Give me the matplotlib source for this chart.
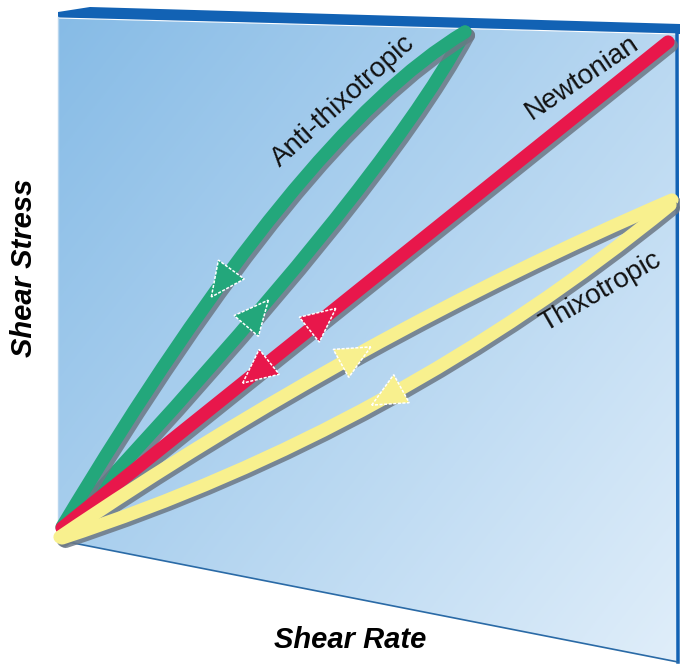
import numpy as np
import matplotlib.pyplot as plt
from matplotlib.path import Path
from matplotlib.patches import PathPatch, Polygon
import matplotlib.patheffects as pe

# diagram coordinates (1 unit = 1 px, y downwards)
panel_x = [58, 677, 678, 58]
panel_y = [17, 33, 662, 540]
band_x = [58, 90, 680, 680, 677, 58]
band_y = [12, 7, 24, 34, 34, 18]

# loops: start, control, end of each branch (quadratic curves)
green_up = [(65, 527), (380, 190), (465, 32)]
green_down = [(465, 32), (299, 131), (62, 527)]
red_line = [(62, 528), (668, 42)]
yellow_up = [(60, 537), (358, 335), (672, 200)]
yellow_down = [(670, 205), (395, 429), (62, 538)]

# arrow positions along each branch (fraction of the branch)
green_up_arrow = 0.35
green_down_arrow = 0.645
red_arrows = [0.43, 0.32]
yellow_up_arrow = 0.49
yellow_down_arrow = 0.49

labels = ["Anti-thixotropic", "Newtonian", "Thixotropic"]
label_x = [343, 582, 601]
label_y = [101, 78, 292]
label_rot = [42, 34, 30]

green = "#23a77b"
red = "#e8174b"
yellow = "#f8f08e"
dark_blue = "#1262b4"

plt.rcParams["font.family"] = ["Liberation Sans", "DejaVu Sans"]

fig = plt.figure(figsize=(6.8, 6.66), dpi=100)
ax = fig.add_axes([0, 0, 1, 1])
ax.set_xlim(0, 680)
ax.set_ylim(666, 0)
ax.axis("off")

# panel with gradient
panel = Polygon(list(zip(panel_x, panel_y)), closed=True, facecolor="none",
                edgecolor="none")
ax.add_patch(panel)
xx, yy = np.meshgrid(np.linspace(0, 1, 300), np.linspace(0, 1, 300))
s = np.clip(0.55 * xx + 0.45 * yy, 0, 1)[..., None]
c0 = np.array([134, 187, 230]) / 255
c1 = np.array([224, 238, 250]) / 255
img = c0 * (1 - s) + c1 * s
im = ax.imshow(img, extent=(58, 678, 662, 8), origin="upper", aspect="auto",
               zorder=1)
im.set_clip_path(panel)
ax.set_xlim(0, 680)
ax.set_ylim(666, 0)

ax.add_patch(Polygon(list(zip(band_x, band_y)), closed=True,
                     facecolor=dark_blue, edgecolor="none", zorder=2))
ax.plot([58, 677], [18, 34], color="white", lw=0.8, zorder=2)
ax.plot([677, 678], [33, 662], color=dark_blue, lw=2.5, zorder=2)
ax.plot([58, 678], [540, 662], color="#2a6aa6", lw=1.2, zorder=2)
ax.plot([58, 58], [17, 540], color="#b9d6ee", lw=1, zorder=2)

shadow = [pe.SimpleLineShadow(offset=(2.5, -2.5), shadow_color="#6c7885",
                              alpha=0.85), pe.Normal()]


def quad(pts, t):
    p0, c, p2 = [np.array(p, float) for p in pts]
    pos = (1 - t) ** 2 * p0 + 2 * t * (1 - t) * c + t ** 2 * p2
    d = 2 * (1 - t) * (c - p0) + 2 * t * (p2 - c)
    return pos, d / np.hypot(*d)


def branch(pts, color, z):
    if len(pts) == 3:
        path = Path(pts, [Path.MOVETO, Path.CURVE3, Path.CURVE3])
    else:
        path = Path(pts, [Path.MOVETO, Path.LINETO])
    pp = PathPatch(path, fill=False, edgecolor=color, lw=9.5, zorder=z,
                   capstyle="round", joinstyle="round")
    pp.set_path_effects(shadow)
    ax.add_patch(pp)


def arrow(pos, d, color, z, L=34, W=32):
    n = np.array([-d[1], d[0]])
    tip = pos + d * L * 0.5
    base = pos - d * L * 0.5
    tri = [tip, base + n * W / 2, base - n * W / 2]
    ax.add_patch(Polygon(tri, closed=True, facecolor=color, edgecolor="white",
                         lw=1.1, linestyle=(0, (2, 1)), zorder=z))


branch(green_up, green, 3)
branch(green_down, green, 3)
branch(red_line, red, 4)
branch(yellow_up, yellow, 5)
branch(yellow_down, yellow, 5)

p, d = quad(green_up, green_up_arrow)
arrow(p, d, green, 6)
p, d = quad(green_down, green_down_arrow)
arrow(p, d, green, 6)

r0 = np.array(red_line[0], float)
r1 = np.array(red_line[1], float)
rd = (r1 - r0) / np.hypot(*(r1 - r0))
arrow(r0 + (r1 - r0) * red_arrows[0], rd, red, 6)
arrow(r0 + (r1 - r0) * red_arrows[1], -rd, red, 6)

p, d = quad(yellow_up, yellow_up_arrow)
arrow(p, d, yellow, 6)
p, d = quad(yellow_down, yellow_down_arrow)
arrow(p, d, yellow, 6)

for lab, x, y, r in zip(labels, label_x, label_y, label_rot):
    ax.text(x, y, lab, rotation=r, fontsize=20, ha="center", va="center",
            color="#111111", zorder=7, rotation_mode="anchor")

ax.text(350, 640, "Shear Rate", fontsize=21, fontweight="bold",
        fontstyle="italic", ha="center", va="center")
ax.text(24, 268, "Shear Stress", fontsize=21, fontweight="bold",
        fontstyle="italic", ha="center", va="center", rotation=90)

fig.savefig("out.png", dpi=100)
